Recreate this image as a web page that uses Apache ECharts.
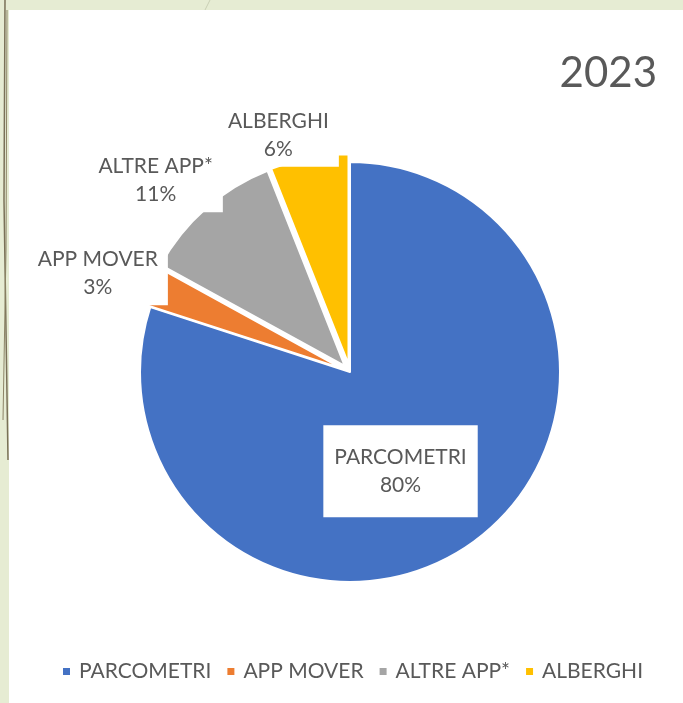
<!DOCTYPE html>
<html>
<head>
<meta charset="utf-8">
<script src="https://cdn.jsdelivr.net/npm/echarts@6/dist/echarts.min.js"></script>
<style>
  html, body { margin: 0; padding: 0; background: #e6ecd3; }
  #main { width: 683px; height: 703px; }
</style>
</head>
<body>
<div id="main"></div>
<script>
// dati del grafico
const categories = ['PARCOMETRI', 'APP MOVER', 'ALTRE APP*', 'ALBERGHI'];
const values = [80, 3, 11, 6];
const colors = ['#4472C4', '#ED7D31', '#A5A5A5', '#FFC000'];
const exploded = [false, true, true, true];

// posizione etichette (fattore raggio, spostamento in gradi)
const labelRadius = [0.53, 1.29, 1.30, 1.18];
const labelShift = [9, -2, -4, -6];

const cx = 350, cy = 372, R = 210;
const total = values.reduce((a, b) => a + b, 0);
const midAngles = [];
let acc = 0;
values.forEach(v => { midAngles.push((acc + v / 2) / total * 360); acc += v; });

const myChart = echarts.init(document.getElementById('main'));

const option = {
  backgroundColor: '#e6ecd3',
  animation: false,
  textStyle: { fontFamily: 'Lato' },
  graphic: [
    { type: 'rect', shape: { x: 9, y: 10, width: 674, height: 693 }, style: { fill: '#ffffff' }, z: -10 },
    { type: 'polyline', shape: { points: [[5, 0], [4, 200], [6, 330], [8, 460]] }, style: { stroke: '#7a7158', lineWidth: 1.5, fill: null }, z: -5 },
    { type: 'polyline', shape: { points: [[7, 10], [6, 250], [3, 420]] }, style: { stroke: '#8c8466', lineWidth: 1, fill: null }, z: -5 },
    { type: 'line', shape: { x1: 205, y1: 10, x2: 210, y2: 0 }, style: { stroke: '#c9cfb4', lineWidth: 1 }, z: -5 }
  ],
  title: {
    text: '2023',
    right: 21,
    top: 47,
    textStyle: { fontFamily: 'Lato', fontWeight: 'normal', fontSize: 42, color: '#595959' }
  },
  legend: {
    bottom: 16,
    left: 56,
    icon: 'rect',
    itemWidth: 9,
    itemHeight: 9,
    itemGap: 14,
    textStyle: { fontFamily: 'Lato', fontSize: 21, color: '#595959', padding: [0, 0, 0, 3] },
    data: categories
  },
  series: [
    {
      // fette (quelle piccole leggermente esplose)
      type: 'pie',
      center: [cx, cy],
      radius: R,
      startAngle: 90,
      clockwise: true,
      selectedMode: 'multiple',
      selectedOffset: 8,
      itemStyle: { borderColor: '#ffffff', borderWidth: 2 },
      label: { show: false },
      labelLine: { show: false },
      emphasis: { disabled: true },
      data: categories.map((name, i) => ({
        name: name,
        value: values[i],
        selected: exploded[i],
        itemStyle: { color: colors[i] }
      }))
    },
    {
      // solo etichette
      type: 'pie',
      center: [cx, cy],
      radius: R,
      startAngle: 90,
      clockwise: true,
      silent: true,
      avoidLabelOverlap: false,
      itemStyle: { color: 'rgba(0,0,0,0)', borderWidth: 0 },
      label: {
        show: true,
        position: 'outside',
        formatter: '{b}\n{d}%',
        fontFamily: 'Lato',
        fontSize: 21,
        lineHeight: 28,
        color: '#595959',
        align: 'center',
        overflow: 'none',
        backgroundColor: '#ffffff',
        padding: [4, 10]
      },
      labelLine: { show: false },
      labelLayout: function (params) {
        const i = params.dataIndex;
        const a = (midAngles[i] + labelShift[i]) * Math.PI / 180;
        const d = labelRadius[i] * R;
        return {
          x: cx + Math.sin(a) * d,
          y: cy - Math.cos(a) * d,
          align: 'center',
          verticalAlign: 'middle'
        };
      },
      emphasis: { disabled: true },
      data: categories.map((name, i) => ({
        name: name,
        value: values[i],
        label: i === 0 ? { position: 'inside', padding: [18, 11] } : {}
      }))
    }
  ]
};

myChart.setOption(option);
</script>
</body>
</html>
